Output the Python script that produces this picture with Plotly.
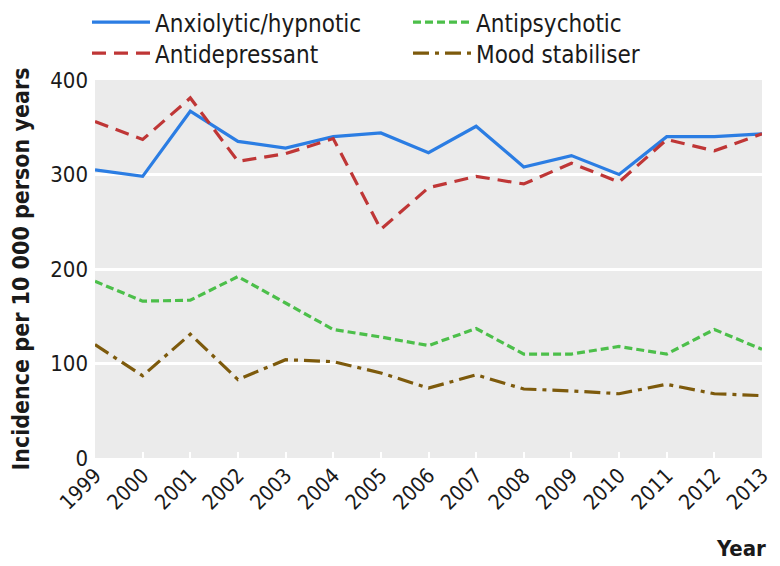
import plotly.graph_objects as go

years = list(range(1999, 2014))
anxiolytic = [305, 298, 367, 335, 328, 340, 344, 323, 351, 308, 320, 300, 340, 340, 343]
antidepressant = [356, 337, 381, 314, 322, 338, 242, 286, 298, 290, 312, 292, 337, 325, 343]
antipsychotic = [187, 166, 167, 192, 164, 136, 128, 119, 137, 110, 110, 118, 110, 136, 115]
mood = [120, 87, 131, 83, 104, 102, 90, 74, 88, 73, 71, 68, 78, 68, 66]

FONT = "DejaVu Sans Condensed, sans-serif"

fig = go.Figure()
fig.add_trace(go.Scatter(x=years, y=anxiolytic, mode="lines", name="Anxiolytic/hypnotic",
                         legend="legend",
                         line=dict(color="#2b7de3", width=3.2)))
fig.add_trace(go.Scatter(x=years, y=antipsychotic, mode="lines", name="Antipsychotic",
                         legend="legend",
                         line=dict(color="#4cbf4a", width=3.2, dash="8px,4px")))
fig.add_trace(go.Scatter(x=years, y=antidepressant, mode="lines", name="Antidepressant",
                         legend="legend2",
                         line=dict(color="#bf3636", width=3.2, dash="14px,8px")))
fig.add_trace(go.Scatter(x=years, y=mood, mode="lines", name="Mood stabiliser",
                         legend="legend2",
                         line=dict(color="#7d5a0c", width=3.2, dash="16px,6px,4px,6px")))

leg_common = dict(orientation="h", x=-0.012, xanchor="left", yanchor="middle",
                  entrywidth=248, entrywidthmode="pixels", itemwidth=58,
                  font=dict(family=FONT, size=24, color="#1a1a1a"),
                  bgcolor="rgba(0,0,0,0)")

fig.update_layout(
    width=772, height=558,
    margin=dict(l=87, r=18, t=72, b=108, autoexpand=False),
    paper_bgcolor="white",
    plot_bgcolor="#ebebeb",
    font=dict(family=FONT, size=22, color="#1a1a1a"),
    showlegend=True,
    legend=dict(y=1.152, **leg_common),
    legend2=dict(y=1.07, **leg_common),
    xaxis=dict(range=[1999, 2013], tickmode="array", tickvals=years,
               ticktext=[str(y) for y in years], tickangle=-45, automargin=False,
               showgrid=False, zeroline=False, showline=False,
               ticks="inside", ticklen=6, tickcolor="white", tickwidth=2,
               tickfont=dict(family=FONT, size=21, color="#1a1a1a")),
    yaxis=dict(range=[0, 400], tickvals=[0, 100, 200, 300, 400], automargin=False,
               showgrid=True, gridcolor="white", gridwidth=2.5, zeroline=False,
               showline=False, ticks="", ticklabelstandoff=6,
               tickfont=dict(family=FONT, size=22, color="#1a1a1a"),
               title=dict(text="<b>Incidence per 10 000 person years</b>", standoff=14,
                          font=dict(family=FONT, size=23, color="#1a1a1a"))),
)

fig.add_annotation(text="<b>Year</b>", xref="paper", yref="paper", x=1.0, y=-0.2,
                   xanchor="right", yanchor="top", showarrow=False, xshift=6,
                   font=dict(family=FONT, size=22, color="#1a1a1a"))

fig.write_html("out.html")
